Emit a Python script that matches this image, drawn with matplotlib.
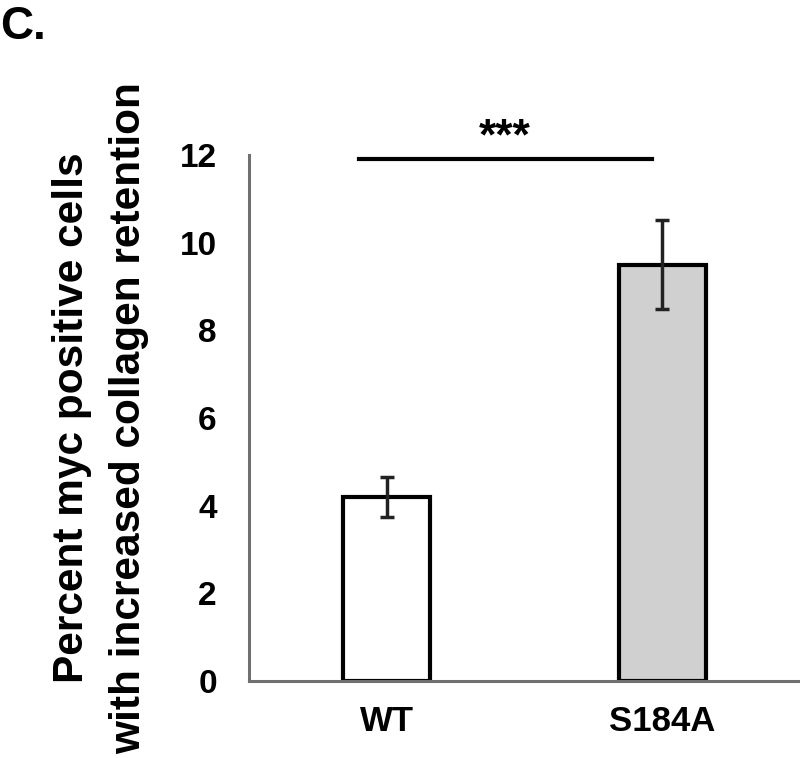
import matplotlib
matplotlib.use("Agg")
import matplotlib.pyplot as plt

plt.rcParams['font.family'] = ['Liberation Sans', 'DejaVu Sans']

# data
groups = ["WT", "S184A"]
means = [4.2, 9.5]
errors = [0.46, 1.02]
bar_colors = ["white", "#d0d0d0"]
y_ticks = [0, 2, 4, 6, 8, 10, 12]
sig_text = "***"

fig = plt.figure(figsize=(8, 7.58), dpi=100)
ax = fig.add_axes([0.311, 0.1016, 0.689, 0.694])

x = range(len(groups))
ax.bar(x, means, width=0.316, color=bar_colors, edgecolor="black", linewidth=3, zorder=2)
ax.errorbar(x, means, yerr=errors, fmt="none", ecolor="#222222", elinewidth=2.5,
            capsize=4.8, capthick=2.5, zorder=3)

ax.set_xlim(-0.5, 1.5)
ax.set_ylim(0, 12)
ax.set_yticks(y_ticks)
ax.set_xticks(list(x))
ax.set_xticklabels(groups, fontsize=25, fontweight="bold")
ax.set_yticklabels([str(t) for t in y_ticks], fontsize=24, fontweight="bold")
ax.tick_params(axis="y", length=0, pad=23)
ax.tick_params(axis="x", length=0, pad=17)

for s in ["top", "right"]:
    ax.spines[s].set_visible(False)
for s in ["left", "bottom"]:
    ax.spines[s].set_color("#707070")
    ax.spines[s].set_linewidth(2.2)

# significance bar
ax.plot([-0.1, 0.964], [11.91, 11.91], color="black", lw=3, clip_on=False)
ax.text(0.43, 12.38, sig_text, ha="center", va="center", fontsize=32,
        fontweight="bold", clip_on=False)

ax.set_ylabel("Percent myc positive cells\nwith increased collagen retention",
              fontsize=30.5, fontweight="bold", labelpad=22, linespacing=1.55)

fig.text(0.0, 0.993, "C.", fontsize=33, fontweight="bold", ha="left", va="top")

fig.savefig("out.png", dpi=100)
